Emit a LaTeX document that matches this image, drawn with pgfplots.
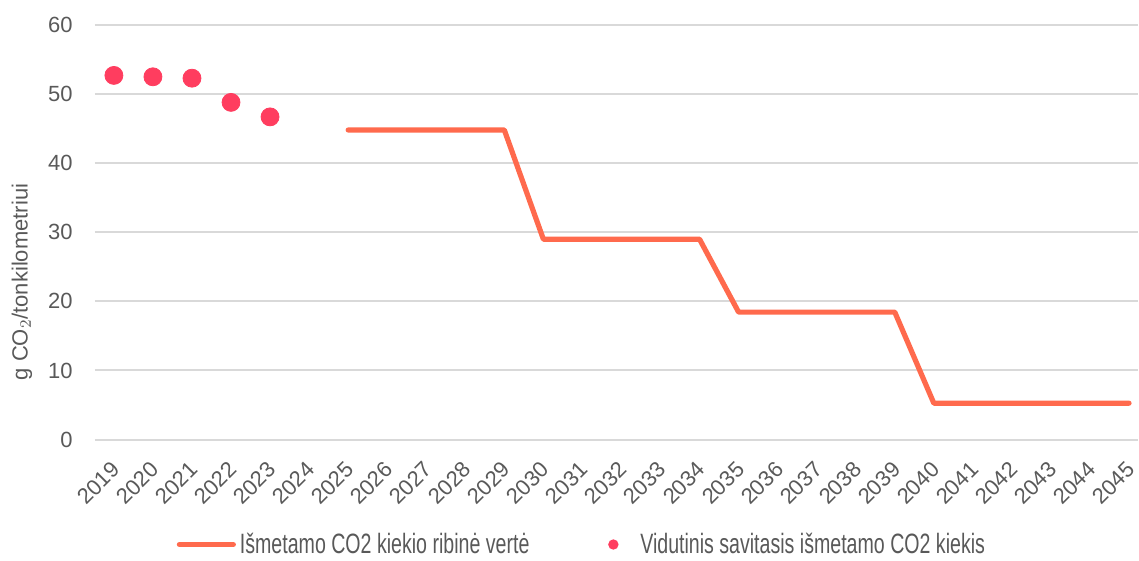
\documentclass[border=0pt]{standalone}
\usepackage{fontspec}
\setmainfont{Liberation Sans}
\newfontfamily\condensed[FakeStretch=0.7]{Liberation Sans}
\usepackage{pgfplots}
\pgfplotsset{compat=1.18}
\definecolor{limitLine}{HTML}{FF6A4D}
\definecolor{avgDot}{HTML}{FF3D5F}
\definecolor{gridGray}{HTML}{D9D9D9}
\definecolor{labelGray}{HTML}{595959}

\begin{document}
\begin{tikzpicture}
\begin{axis}[
    scale only axis,
    width=522pt, height=207.5pt,
    xmin=-0.486, xmax=26.23,
    ymin=0, ymax=60,
    ytick={0,10,...,60},
    xtick={0,...,26},
    xticklabels={2019,2020,2021,2022,2023,2024,2025,2026,2027,2028,2029,2030,2031,2032,2033,2034,2035,2036,2037,2038,2039,2040,2041,2042,2043,2044,2045},
    /pgf/number format/assume math mode=true,
    ticklabel style={font=\fontsize{11}{13}\selectfont, text=labelGray},
    xticklabel style={yshift=-13pt, xshift=1pt, rotate=45, anchor=east, inner sep=0pt},
    yticklabel style={inner sep=0pt, xshift=-11pt},
    axis line style={draw=none},
    major tick length=0pt,
    ymajorgrids, grid style={gridGray, line width=1pt},
    ylabel={g CO$_2$/tonkilometriui},
    ylabel style={font=\fontsize{11}{13}\selectfont, text=labelGray, inner sep=0pt,
        anchor=center, at={(axis description cs:-0.0699,0.38)}},
    legend style={draw=none, inner sep=0pt, outer sep=0pt, legend columns=2,
        at={(axis description cs:0.0785,-0.253)}, anchor=west,
        font=\condensed\fontsize{14}{16}\selectfont, text=labelGray,
        /tikz/every even column/.append style={column sep=23.5pt},
        nodes={inner xsep=2pt}},
    legend cell align=left,
    clip=false,
]
\addplot[limitLine, line width=2.6pt, line cap=round, line join=round,
    legend image code/.code={\draw[limitLine, line width=2.6pt, line cap=round] (0pt,0pt) -- (27pt,0pt);}] coordinates {
    (6,44.8) (7,44.8) (8,44.8) (9,44.8) (10,44.8)
    (11,29.0) (12,29.0) (13,29.0) (14,29.0) (15,29.0)
    (16,18.45) (17,18.45) (18,18.45) (19,18.45) (20,18.45)
    (21,5.27) (22,5.27) (23,5.27) (24,5.27) (25,5.27) (26,5.27)
};
\addlegendentry{Išmetamo CO2 kiekio ribinė vertė}
\addplot[only marks, mark=*, mark size=4.5pt, avgDot, mark options={draw=avgDot, fill=avgDot},
    legend image code/.code={\fill[avgDot, draw=none] (16.5pt,0pt) circle (2.6pt); \path[draw=none] (0pt,0pt) -- (28pt,0pt);}] coordinates {
    (0,52.7) (1,52.5) (2,52.3) (3,48.8) (4,46.7)
};
\addlegendentry{Vidutinis savitasis išmetamo CO2 kiekis}
% page margins as in the reference
\path (rel axis cs:0,1) ++(-47.5pt,12.5pt);
\path (rel axis cs:0,0) ++(0,-59pt);
\end{axis}
\end{tikzpicture}
\end{document}
